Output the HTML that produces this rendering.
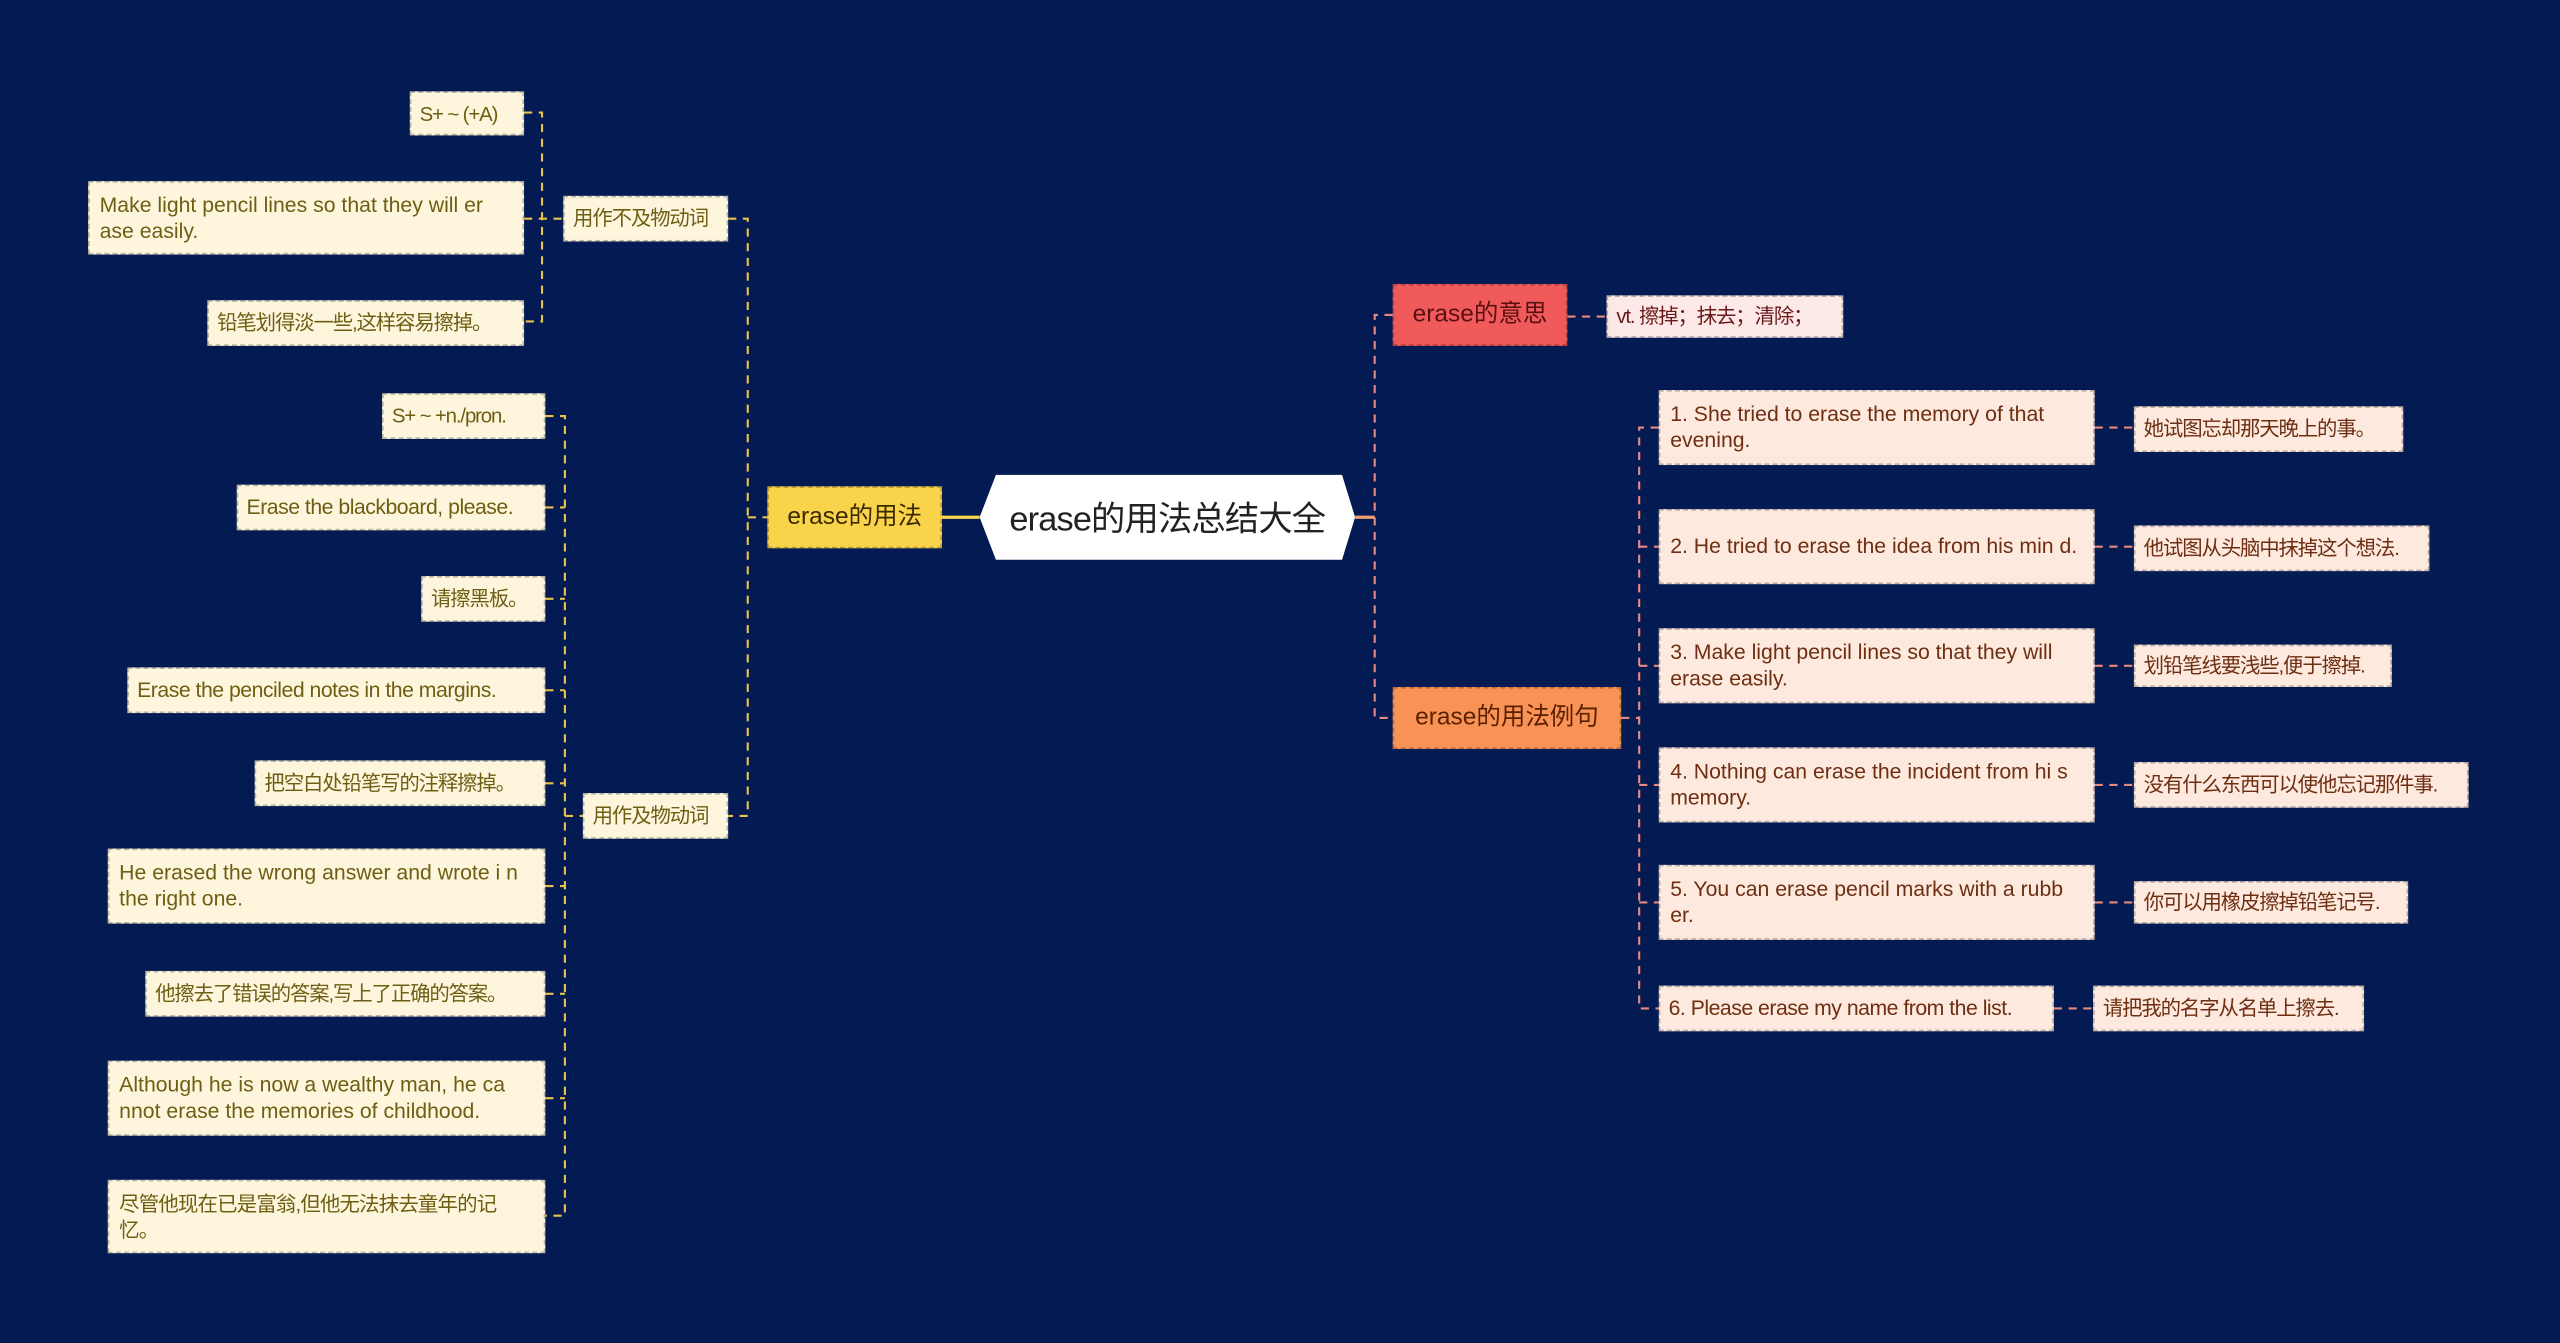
<!DOCTYPE html>
<html><head><meta charset="utf-8">
<style>
html,body{margin:0;padding:0;background:#031a52;width:2560px;height:1343px;overflow:hidden}
#w{position:absolute;left:0;top:0;width:1568px;height:823px;transform:scale(1.63265,1.6318);transform-origin:0 0;font-family:"Liberation Sans","Noto Sans CJK SC",sans-serif}
.n{position:absolute;box-sizing:border-box;display:flex;align-items:center;font-size:13px;line-height:16px;padding:0 7px;outline:1px dashed rgba(0,0,0,0.25);outline-offset:-1px;overflow:hidden}
.s{white-space:nowrap;font-size:12.5px;letter-spacing:-0.7px;padding:0 6px}
.l{background:#fdf6dc;color:#6e5e14}
.r{background:#fde9de;color:#6e2e12}
svg{position:absolute;left:0;top:0}
</style></head><body><div id="w">
<svg width="1568" height="823">
<g fill="none" stroke-width="1.3" stroke-dasharray="5,4">
<g stroke="#e8c24a">
<path d="M321 69H332V197H321M321 134H345M332 134H332"/>
<path d="M334 255H346V745H334M334 311H346M334 367H346M334 423H346M334 480H346M334 543H346M334 609H346M334 673H346M346 500H357"/>
<path d="M446 134H458V500H446M458 317H470"/>
</g>
<g stroke="#e88a80">
<path d="M853 193H842V440H853M960 194H984"/>
<path d="M993 440H1004M1016 262H1004V618H1016M1004 335H1016M1004 408H1016M1004 481H1016M1004 553H1016"/>
<path d="M1283 262H1307M1283 335H1307M1283 408H1307M1283 481H1307M1283 553H1307M1258 618H1282"/>
</g>
</g>
<path d="M577 317H600" stroke="#f9d34a" stroke-width="2"/>
<path d="M830 317H842" stroke="#f0a070" stroke-width="2"/>
<polygon points="610,291 822,291 830,317 822,343 610,343 600,317" fill="#fff"/>
<text x="715" y="325" text-anchor="middle" font-size="21" letter-spacing="-0.5" fill="#222" font-family="Liberation Sans,Noto Sans CJK SC,sans-serif">erase的用法总结大全</text>
</svg>

<div class="n" style="left:470px;top:298px;width:107px;height:38px;background:#f9d34a;color:#3a2a00;font-size:15px;justify-content:center;white-space:nowrap">erase的用法</div>
<div class="n" style="left:853px;top:174px;width:107px;height:38px;background:#f05a5a;color:#5a1010;font-size:15px;justify-content:center;white-space:nowrap">erase的意思</div>
<div class="n" style="left:853px;top:421px;width:140px;height:38px;background:#f99255;color:#5a2000;font-size:15px;justify-content:center;white-space:nowrap">erase的用法例句</div>
<div class="n s" style="left:984px;top:181px;width:145px;height:26px;background:#fde8e8;color:#6a1a1a">vt. 擦掉；抹去；清除；</div>

<div class="n r" style="left:1016px;top:239px;width:267px;height:46px">1. She tried to erase the memory of that evening.</div>
<div class="n r" style="left:1016px;top:312px;width:267px;height:46px">2. He tried to erase the idea from his min d.</div>
<div class="n r" style="left:1016px;top:385px;width:267px;height:46px">3. Make light pencil lines so that they will erase easily.</div>
<div class="n r" style="left:1016px;top:458px;width:267px;height:46px">4. Nothing can erase the incident from hi s memory.</div>
<div class="n r" style="left:1016px;top:530px;width:267px;height:46px">5. You can erase pencil marks with a rubb er.</div>
<div class="n r s" style="left:1016px;top:604px;width:242px;height:28px;font-size:13px;letter-spacing:-0.3px">6. Please erase my name from the list.</div>
<div class="n r s" style="left:1307px;top:249px;width:165px;height:28px">她试图忘却那天晚上的事。</div>
<div class="n r s" style="left:1307px;top:322px;width:181px;height:28px">他试图从头脑中抹掉这个想法.</div>
<div class="n r s" style="left:1307px;top:395px;width:158px;height:26px">划铅笔线要浅些,便于擦掉.</div>
<div class="n r s" style="left:1307px;top:467px;width:205px;height:28px">没有什么东西可以使他忘记那件事.</div>
<div class="n r s" style="left:1307px;top:540px;width:168px;height:26px">你可以用橡皮擦掉铅笔记号.</div>
<div class="n r s" style="left:1282px;top:604px;width:166px;height:28px">请把我的名字从名单上擦去.</div>

<div class="n l s" style="left:345px;top:120px;width:101px;height:28px">用作不及物动词</div>
<div class="n l s" style="left:357px;top:486px;width:89px;height:28px">用作及物动词</div>

<div class="n l s" style="left:251px;top:56px;width:70px;height:27px">S+ ~ (+A)</div>
<div class="n l" style="left:54px;top:111px;width:267px;height:45px">Make light pencil lines so that they will er ase easily.</div>
<div class="n l s" style="left:127px;top:184px;width:194px;height:28px">铅笔划得淡一些,这样容易擦掉。</div>

<div class="n l s" style="left:234px;top:241px;width:100px;height:28px">S+ ~ +n./pron.</div>
<div class="n l s" style="left:145px;top:297px;width:189px;height:28px;font-size:13px;letter-spacing:-0.3px">Erase the blackboard, please.</div>
<div class="n l s" style="left:258px;top:353px;width:76px;height:28px">请擦黑板。</div>
<div class="n l s" style="left:78px;top:409px;width:256px;height:28px;font-size:13px;letter-spacing:-0.3px">Erase the penciled notes in the margins.</div>
<div class="n l s" style="left:156px;top:466px;width:178px;height:28px">把空白处铅笔写的注释擦掉。</div>
<div class="n l" style="left:66px;top:520px;width:268px;height:46px">He erased the wrong answer and wrote i n the right one.</div>
<div class="n l s" style="left:89px;top:595px;width:245px;height:28px">他擦去了错误的答案,写上了正确的答案。</div>
<div class="n l" style="left:66px;top:650px;width:268px;height:46px">Although he is now a wealthy man, he ca nnot erase the memories of childhood.</div>
<div class="n l" style="left:66px;top:723px;width:268px;height:45px;font-size:12.5px;letter-spacing:-0.5px">尽管他现在已是富翁,但他无法抹去童年的记忆。</div>
</div></body></html>
